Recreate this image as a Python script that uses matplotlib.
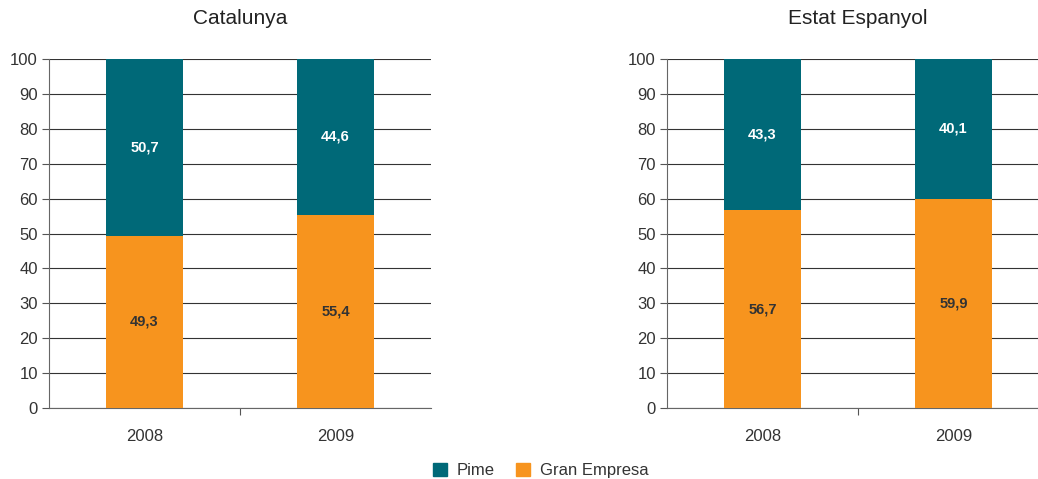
import matplotlib.pyplot as plt

plt.rcParams['font.family'] = ['Liberation Sans', 'DejaVu Sans']

years = ["2008", "2009"]
regions = ["Catalunya", "Estat Espanyol"]
gran = {"Catalunya": [49.3, 55.4], "Estat Espanyol": [56.7, 59.9]}
pime = {"Catalunya": [50.7, 44.6], "Estat Espanyol": [43.3, 40.1]}

TEAL = "#006978"
ORANGE = "#f7941e"
TXT = "#333333"

fig = plt.figure(figsize=(10.38, 4.79), dpi=100)
positions = [[0.0472, 0.1482, 0.368, 0.7286], [0.6426, 0.1482, 0.368, 0.7286]]

for reg, pos in zip(regions, positions):
    ax = fig.add_axes(pos)
    x = range(len(years))
    g = gran[reg]
    p = pime[reg]
    ax.bar(x, g, width=0.4, color=ORANGE, zorder=3, label="Gran Empresa")
    ax.bar(x, p, width=0.4, bottom=g, color=TEAL, zorder=3, label="Pime")
    for i in x:
        ax.text(i, g[i] / 2, f"{g[i]:.1f}".replace(".", ","), ha="center", va="center",
                color=TXT, fontsize=10.5, fontweight="bold", zorder=4)
        ax.text(i, g[i] + p[i] / 2, f"{p[i]:.1f}".replace(".", ","), ha="center", va="center",
                color="white", fontsize=10.5, fontweight="bold", zorder=4)
    ax.set_xlim(-0.5, 1.5)
    ax.set_ylim(0, 100)
    ax.set_yticks(range(0, 101, 10))
    ax.yaxis.grid(True, color="#333333", linewidth=0.8, zorder=0)
    ax.set_xticks([0.5])
    ax.set_xticklabels([""])
    ax.tick_params(axis="x", length=5, color="#555555")
    ax.tick_params(axis="y", length=5, color="#555555", labelsize=12, labelcolor=TXT, pad=3)
    for i, yr in enumerate(years):
        ax.text(i, -6, yr, ha="center", va="top", fontsize=12, color=TXT)
    for s in ["top", "right"]:
        ax.spines[s].set_visible(False)
    ax.spines["left"].set_color("#666666")
    ax.spines["bottom"].set_color("#666666")
    ax.set_title(reg, fontsize=15, color="#222222", pad=25)

handles = [plt.Rectangle((0, 0), 1, 1, color=TEAL), plt.Rectangle((0, 0), 1, 1, color=ORANGE)]
fig.legend(handles, ["Pime", "Gran Empresa"], loc="center", bbox_to_anchor=(0.521, 0.018),
           ncol=2, frameon=False, fontsize=12, handlelength=0.8, handleheight=0.8,
           columnspacing=1.3, handletextpad=0.6, labelcolor=TXT)

fig.savefig("out.png", dpi=100)
